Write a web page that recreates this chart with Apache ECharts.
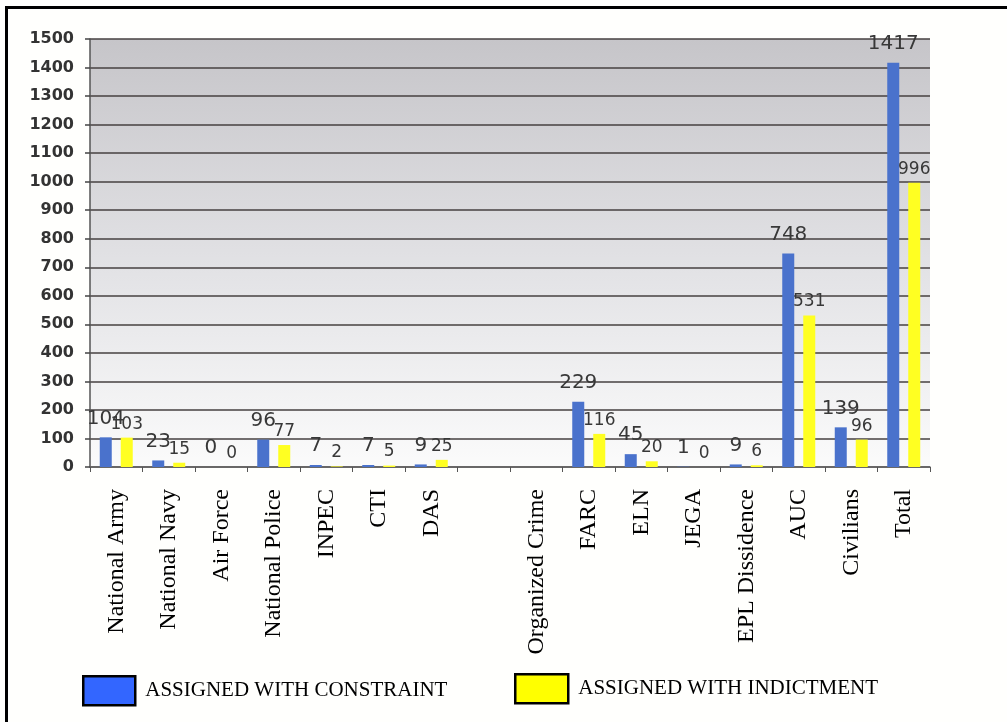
<!DOCTYPE html>
<html>
<head>
<meta charset="utf-8">
<script src="https://cdn.jsdelivr.net/npm/echarts@6/dist/echarts.min.js"></script>
<style>
  html, body { margin: 0; padding: 0; background: #fffffd; }
  #chart { width: 1007px; height: 722px; }
</style>
</head>
<body>
<div id="chart"></div>
<script>
const categories = ['National Army', 'National Navy', 'Air Force', 'National Police', 'INPEC', 'CTI', 'DAS', '', 'Organized Crime', 'FARC', 'ELN', 'JEGA', 'EPL Dissidence', 'AUC', 'Civilians', 'Total'];
const constraintValues = [104, 23, 0, 96, 7, 7, 9, null, null, 229, 45, 1, 9, 748, 139, 1417];
const indictmentValues = [103, 15, 0, 77, 2, 5, 25, null, null, 116, 20, 0, 6, 531, 96, 996];
const seriesNames = ['ASSIGNED WITH CONSTRAINT', 'ASSIGNED WITH INDICTMENT'];
const yMin = 0, yMax = 1500, yStep = 100;

const chart = echarts.init(document.getElementById('chart'), null, { renderer: 'canvas' });

const legendText = { fontFamily: 'Liberation Serif', fontSize: 21, color: '#000' };

chart.setOption({
  backgroundColor: '#fffffd',
  animation: false,
  graphic: [
    { type: 'rect', left: 5, top: 6, shape: { width: 1002, height: 3 }, style: { fill: '#000' } },
    { type: 'rect', left: 5, top: 6, shape: { width: 3, height: 716 }, style: { fill: '#000' } }
  ],
  grid: {
    left: 90, right: 77, top: 39, bottom: 255,
    show: true,
    borderWidth: 0,
    backgroundColor: new echarts.graphic.LinearGradient(0, 0, 0, 1, [
      { offset: 0, color: '#c6c5c9' },
      { offset: 0.55, color: '#e3e3e6' },
      { offset: 1, color: '#fbfbfb' }
    ])
  },
  legend: [
    {
      left: 82, top: 675, padding: 0, itemWidth: 52, itemHeight: 29, icon: 'rect',
      selectedMode: false,
      data: [{ name: seriesNames[0], itemStyle: { color: '#3366ff', borderColor: '#000', borderWidth: 2.5 } }],
      textStyle: Object.assign({ padding: [5, 0, 0, 5] }, legendText)
    },
    {
      left: 514, top: 673, padding: 0, itemWidth: 53, itemHeight: 29, icon: 'rect',
      selectedMode: false,
      data: [{ name: seriesNames[1], itemStyle: { color: '#ffff00', borderColor: '#000', borderWidth: 2.5 } }],
      textStyle: Object.assign({ padding: [0, 0, 0, 5] }, legendText)
    }
  ],
  xAxis: {
    type: 'category',
    data: categories,
    axisLine: { show: true, lineStyle: { color: '#666', width: 1.5 } },
    axisTick: { show: true, interval: 0, length: 5, lineStyle: { color: '#555' } },
    axisLabel: {
      interval: 0, rotate: 90, margin: 22,
      fontFamily: 'Liberation Serif', fontSize: 24, color: '#000'
    },
    splitLine: { show: false }
  },
  yAxis: {
    type: 'value',
    min: yMin, max: yMax, interval: yStep,
    axisLine: { show: true, lineStyle: { color: '#555', width: 1.5 } },
    axisTick: { show: true, length: 5, lineStyle: { color: '#444', width: 1.5 } },
    axisLabel: {
      margin: 16, fontFamily: 'DejaVu Sans', fontWeight: 'bold', fontSize: 16, color: '#333',
      formatter: function (v) { return String(v); }
    },
    splitLine: { show: true, lineStyle: { color: '#464040', width: 1.5 } }
  },
  series: [
    {
      name: seriesNames[0], type: 'bar', data: constraintValues,
      barWidth: 12, barGap: '75%',
      itemStyle: { color: '#4a72cc' },
      label: {
        show: true, position: 'top', distance: 9,
        fontFamily: 'DejaVu Sans', fontSize: 20, color: '#383838'
      }
    },
    {
      name: seriesNames[1], type: 'bar', data: indictmentValues,
      barWidth: 12,
      itemStyle: { color: '#ffff22' },
      label: {
        show: true, position: 'top', distance: 5,
        fontFamily: 'DejaVu Sans', fontSize: 17, color: '#383838'
      }
    }
  ]
});
</script>
</body>
</html>
